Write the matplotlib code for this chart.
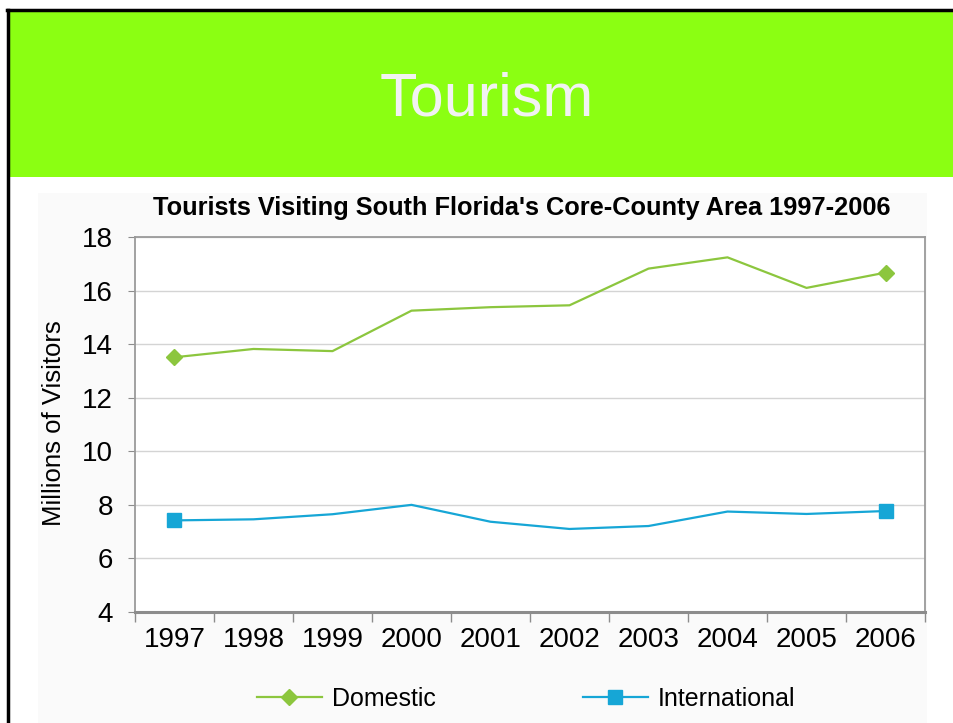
import matplotlib.pyplot as plt
from matplotlib.patches import Rectangle
from matplotlib.lines import Line2D

plt.rcParams['font.family'] = ['Liberation Sans', 'DejaVu Sans']

# data (millions of visitors)
years = ['1997', '1998', '1999', '2000', '2001', '2002', '2003', '2004', '2005', '2006']
domestic = [13.51, 13.82, 13.74, 15.25, 15.38, 15.45, 16.82, 17.24, 16.1, 16.67]
international = [7.42, 7.46, 7.65, 8.0, 7.37, 7.1, 7.21, 7.75, 7.66, 7.77]

green_line = '#8cc63e'
blue_line = '#16a6d6'
x = list(range(len(years)))

fig = plt.figure(figsize=(9.54, 7.23), dpi=100)
W, H = 954, 723

# slide decoration: black border, green title band, light chart background
fig.patches.append(Rectangle((10 / W, 1 - 177 / H), 944 / W, 166 / H, transform=fig.transFigure,
                             facecolor='#8bff12', edgecolor='none', zorder=0))
fig.patches.append(Rectangle((38 / W, 0), 889 / W, 1 - 193 / H, transform=fig.transFigure,
                             facecolor='#fafafa', edgecolor='none', zorder=0))
fig.lines.append(Line2D([8.5 / W, 8.5 / W], [0, 1 - 9.5 / H], transform=fig.transFigure,
                        color='black', lw=2.5))
fig.lines.append(Line2D([7.5 / W, 1], [1 - 10 / H, 1 - 10 / H], transform=fig.transFigure,
                        color='black', lw=2.5))

fig.text(487 / W, 1 - 100 / H, 'Tourism', color='#f2f2f2', fontsize=44,
         ha='center', va='center')
fig.text(522 / W, 1 - 208 / H, "Tourists Visiting South Florida's Core-County Area 1997-2006",
         fontsize=18.3, fontweight='bold', ha='center', va='center')

ax = fig.add_axes([135 / W, 1 - 612 / H, 790 / W, 375 / H])
ax.set_zorder(5)
ax.set_facecolor('white')

ax.plot(x, domestic, color=green_line, lw=1.6, marker='D', markersize=8.5,
        markevery=[0, len(x) - 1], label='Domestic', zorder=3)
ax.plot(x, international, color=blue_line, lw=1.6, marker='s', markersize=9.5,
        markevery=[0, len(x) - 1], label='International', zorder=3)

ax.set_ylim(4, 18)
ax.set_yticks(range(4, 19, 2))
ax.set_xlim(-0.5, len(x) - 0.5)
ax.set_xticks(x)
ax.set_xticklabels(years)
ax.set_xticks([i - 0.5 for i in range(len(x) + 1)], minor=True)
ax.tick_params(axis='x', which='major', length=0, labelsize=20, pad=11)
ax.tick_params(axis='x', which='minor', length=7, color='#8c8c8c', width=1)
ax.tick_params(axis='y', length=5, color='#8c8c8c', labelsize=20, pad=11)
ax.grid(axis='y', color='#d4d4d4', lw=1, zorder=0)

for side in ['top', 'right', 'left']:
    ax.spines[side].set_color('#9a9a9a')
    ax.spines[side].set_linewidth(1.3)
ax.spines['bottom'].set_color('#8c8c8c')
ax.spines['bottom'].set_linewidth(2.2)

ax.set_ylabel('Millions of Visitors', fontsize=18.5)
ax.yaxis.set_label_coords(-0.087, 0.504)

fig.legend(loc='center', bbox_to_anchor=(526 / W, 1 - 699 / H), ncol=2, frameon=False,
           fontsize=18, handlelength=2.6, handletextpad=0.4, columnspacing=5.9, numpoints=1)

fig.savefig('out.png', dpi=100)
